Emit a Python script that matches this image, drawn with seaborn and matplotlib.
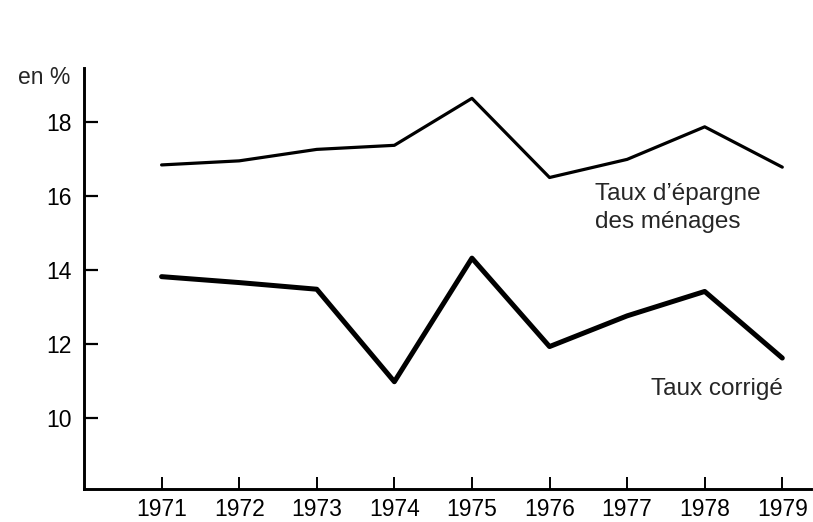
import pandas as pd
import matplotlib
matplotlib.use('Agg')
import matplotlib.pyplot as plt
import seaborn as sns

# values
years = [1971, 1972, 1973, 1974, 1975, 1976, 1977, 1978, 1979]
taux_epargne = [16.83, 16.94, 17.25, 17.36, 18.63, 16.49, 16.98, 17.86, 16.77]
taux_corrige = [13.81, 13.65, 13.47, 10.97, 14.31, 11.92, 12.75, 13.41, 11.61]
y_ticks = [10, 12, 14, 16, 18]

df = pd.DataFrame({
    'annee': years * 2,
    'taux': taux_epargne + taux_corrige,
    'serie': ['epargne'] * len(years) + ['corrige'] * len(years),
})

sns.set_style('ticks')
plt.rcParams['font.family'] = ['Liberation Sans', 'DejaVu Sans']

fig = plt.figure(figsize=(8.13, 5.22), dpi=100)
ax = fig.add_axes([84 / 813, 1 - 489 / 522, (811 - 84) / 813, (489 - 68) / 522])

sns.lineplot(data=df[df['serie'] == 'epargne'], x='annee', y='taux',
             color='black', linewidth=2.3, ax=ax)
sns.lineplot(data=df[df['serie'] == 'corrige'], x='annee', y='taux',
             color='black', linewidth=3.6, ax=ax)

ax.set_xlim(1970, 1979.37)
ax.set_ylim(8.07, 19.45)
ax.set_xticks(years)
ax.set_xticklabels([str(y) for y in years])
ax.set_yticks(y_ticks)
ax.set_xlabel('')
ax.set_ylabel('')

sns.despine(ax=ax)
for side in ['left', 'bottom']:
    ax.spines[side].set_linewidth(2.1)
    ax.spines[side].set_color('black')

ax.tick_params(axis='y', direction='in', length=10, width=1.6, pad=9,
               labelsize=16.5, colors='black')
ax.tick_params(axis='x', direction='in', length=8.5, width=1.4, pad=6.5,
               labelsize=16.5, colors='black')

# annotations, left / right aligned like the reference
ax.text(1976.59, 15.88, 'Taux d\u2019épargne', ha='left', va='baseline', fontsize=17.5)
ax.text(1976.59, 15.13, 'des ménages', ha='left', va='baseline', fontsize=17.5)
ax.text(1979.01, 10.61, 'Taux corrigé', ha='right', va='baseline', fontsize=17.5)

fig.text(70 / 813, 1 - 78 / 522, 'en %', ha='right', va='center', fontsize=16.5)

fig.savefig('out.png', dpi=100)
